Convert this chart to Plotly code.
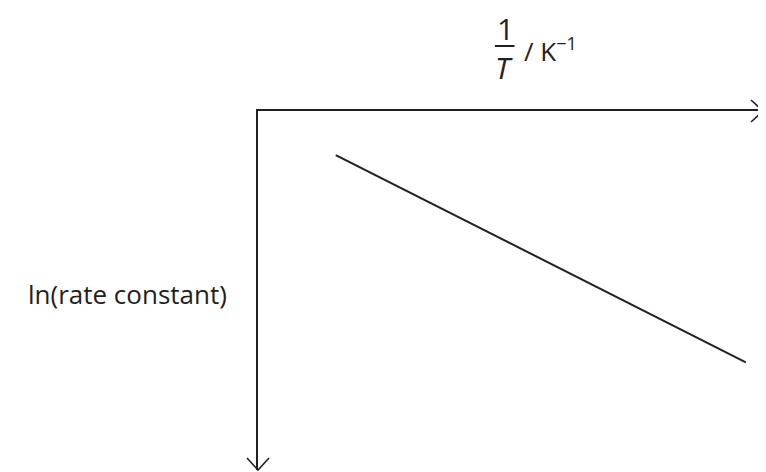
import plotly.graph_objects as go

# schematic Arrhenius plot (arbitrary units)
inv_T = [1.54, 9.66]
ln_k = [-0.86, -4.9]

x_range = [0, 10]
y_range = [-7, 0]

x_label_num = "1"
x_label_den = "<i>T</i>"
x_label_unit = "/ K<sup>\u22121</sup>"
y_label = "ln(rate constant)"

ink = "#231f20"
font = "Open Sans"

fig = go.Figure()

fig.add_trace(go.Scatter(
    x=inv_T,
    y=ln_k,
    mode='lines',
    line=dict(color=ink, width=2),
    showlegend=False,
    hoverinfo='skip'
))

# open arrowheads at the far ends of both axes (paper edges, pixel-sized)
fig.add_shape(type='path', xref='paper', yref='paper',
              xsizemode='pixel', ysizemode='pixel',
              xanchor=1, yanchor=1,
              path='M -12,11 L 0,0 L -12,-11',
              line=dict(color=ink, width=1.6))
fig.add_shape(type='path', xref='paper', yref='paper',
              xsizemode='pixel', ysizemode='pixel',
              xanchor=0, yanchor=0,
              path='M -11,12 L 0,0 L 11,12',
              line=dict(color=ink, width=1.6))

# axis titles
fig.add_annotation(x=-0.058, y=0.49, xref='paper', yref='paper', text=y_label,
                   showarrow=False, xanchor='right', yanchor='middle',
                   font=dict(family=font, size=26, color=ink))
fig.add_annotation(x=0.49, y=1.231, xref='paper', yref='paper', text=x_label_num,
                   showarrow=False, xanchor='center', yanchor='middle',
                   font=dict(family=font, size=30, color=ink))
fig.add_annotation(x=0.487, y=1.12, xref='paper', yref='paper', text=x_label_den,
                   showarrow=False, xanchor='center', yanchor='middle',
                   font=dict(family=font, size=30, color=ink))
fig.add_annotation(x=0.522, y=1.17, xref='paper', yref='paper', text=x_label_unit,
                   showarrow=False, xanchor='left', yanchor='middle',
                   font=dict(family=font, size=26, color=ink))
fig.add_shape(type='line', xref='paper', yref='paper',
              x0=0.469, x1=0.508, y0=1.181, y1=1.181,
              line=dict(color=ink, width=2))

fig.update_xaxes(range=x_range, side='top', showline=True, linecolor=ink,
                 linewidth=2, showgrid=False, zeroline=False,
                 showticklabels=False, ticks='')
fig.update_yaxes(range=y_range, showline=True, linecolor=ink,
                 linewidth=2, showgrid=False, zeroline=False,
                 showticklabels=False, ticks='')

# the page body adds an 8px margin, so the figure is shrunk to fit
fig.update_layout(
    width=758,
    height=464,
    margin=dict(l=250, r=3, t=103, b=2),
    plot_bgcolor='white',
    paper_bgcolor='white'
)

fig.write_html("out.html")
